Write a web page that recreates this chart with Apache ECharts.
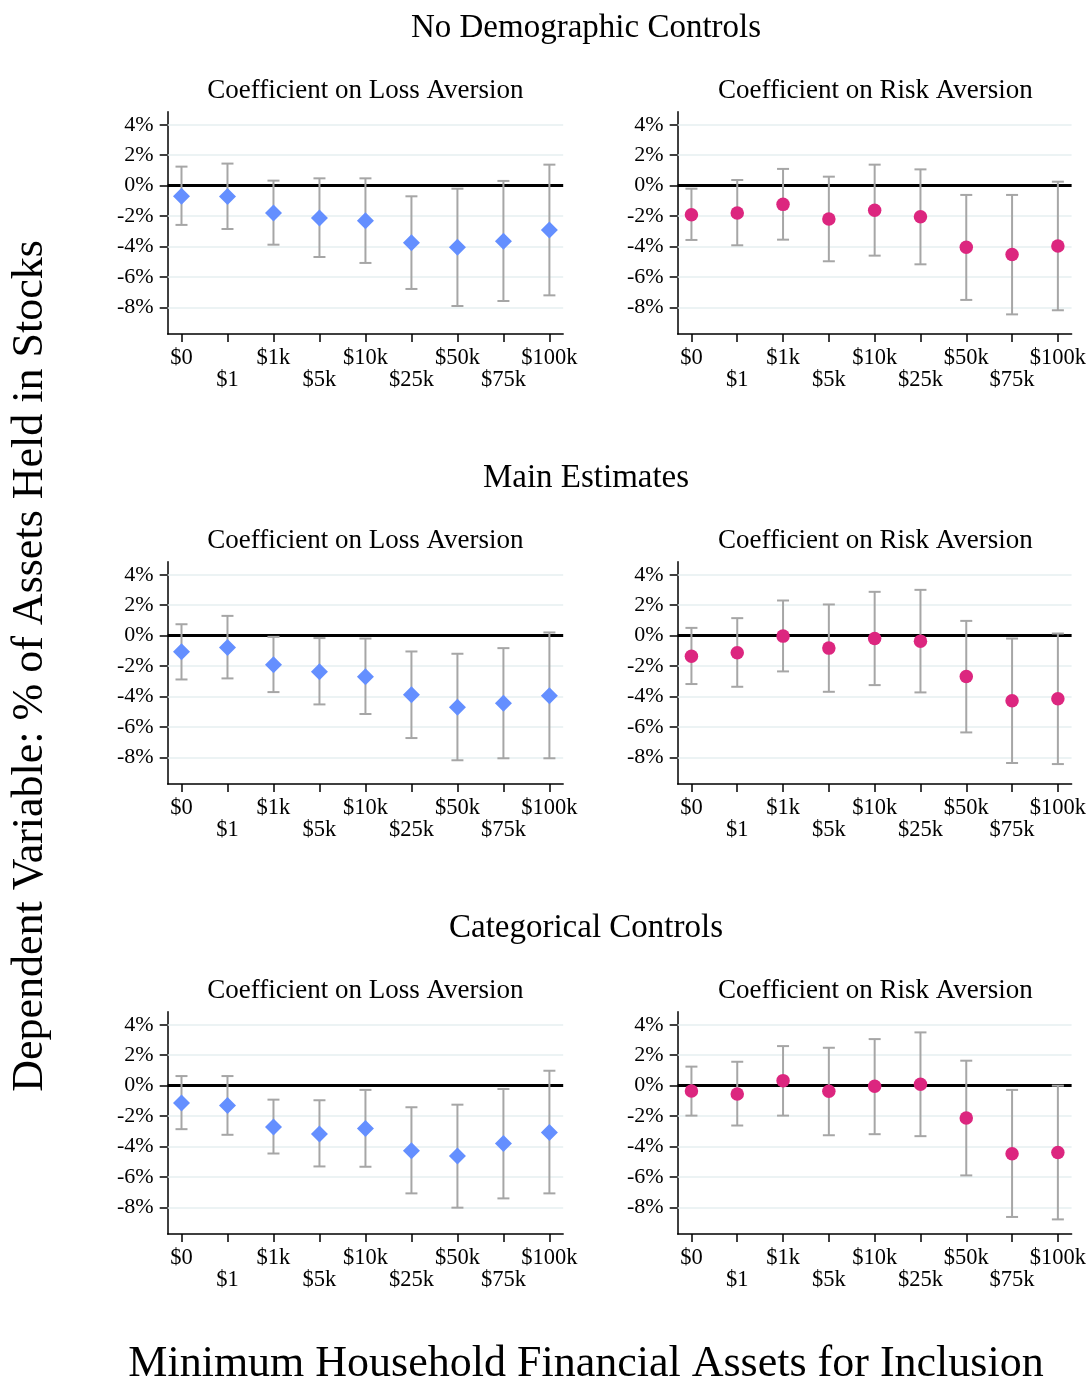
<!DOCTYPE html>
<html>
<head>
<meta charset="utf-8">
<script src="https://cdn.jsdelivr.net/npm/echarts@6/dist/echarts.min.js"></script>
<style>
html,body{margin:0;padding:0;background:#fff;}
#chart{width:1089px;height:1382px;}
</style>
</head>
<body>
<div id="chart"></div>
<script>
// ---- Data ----
const categories = ['$0', '$1', '$1k', '$5k', '$10k', '$25k', '$50k', '$75k', '$100k'];
const yTicks = [-8, -6, -4, -2, 0, 2, 4];

// No Demographic Controls
const lossNoDemoEst = [-0.70, -0.72, -1.80, -2.12, -2.30, -3.75, -4.05, -3.66, -2.91];
const lossNoDemoLo  = [-2.58, -2.85, -3.88, -4.69, -5.08, -6.79, -7.91, -7.58, -7.21];
const lossNoDemoHi  = [ 1.25,  1.45,  0.33,  0.48,  0.48, -0.70, -0.20,  0.31,  1.38];
const riskNoDemoEst = [-1.91, -1.80, -1.23, -2.19, -1.62, -2.04, -4.05, -4.53, -3.96];
const riskNoDemoLo  = [-3.57, -3.92, -3.55, -4.97, -4.60, -5.17, -7.51, -8.46, -8.19];
const riskNoDemoHi  = [-0.20,  0.37,  1.10,  0.59,  1.38,  1.07, -0.61, -0.61,  0.26];

// Main Estimates
const lossMainEst = [-1.06, -0.78, -1.91, -2.37, -2.70, -3.88, -4.71, -4.45, -3.95];
const lossMainLo  = [-2.88, -2.81, -3.71, -4.52, -5.15, -6.73, -8.19, -8.06, -8.06];
const lossMainHi  = [ 0.75,  1.30, -0.08, -0.16, -0.19, -1.04, -1.19, -0.82,  0.21];
const riskMainEst = [-1.35, -1.13, -0.03, -0.82, -0.19, -0.36, -2.68, -4.28, -4.15];
const riskMainLo  = [-3.18, -3.36, -2.35, -3.69, -3.25, -3.73, -6.36, -8.37, -8.44];
const riskMainHi  = [ 0.51,  1.15,  2.31,  2.05,  2.88,  3.01,  0.97, -0.19,  0.14];

// Categorical Controls
const lossCatEst = [-1.14, -1.31, -2.71, -3.17, -2.82, -4.28, -4.63, -3.80, -3.08];
const lossCatLo  = [-2.86, -3.23, -4.46, -5.31, -5.33, -7.08, -8.02, -7.41, -7.08];
const lossCatHi  = [ 0.63,  0.63, -0.92, -0.96, -0.28, -1.42, -1.25, -0.22,  0.98];
const riskCatEst = [-0.35, -0.55,  0.33, -0.37, -0.04,  0.09, -2.12, -4.48, -4.39];
const riskCatLo  = [-1.97, -2.62, -1.97, -3.26, -3.19, -3.32, -5.90, -8.63, -8.79];
const riskCatHi  = [ 1.25,  1.57,  2.60,  2.49,  3.06,  3.50,  1.64, -0.28,  0.00];

const sectionTitles = ['No Demographic Controls', 'Main Estimates', 'Categorical Controls'];
const panelTitles = ['Coefficient on Loss Aversion', 'Coefficient on Risk Aversion'];

const panels = [
  {est: lossNoDemoEst, lo: lossNoDemoLo, hi: lossNoDemoHi, kind: 'loss'},
  {est: riskNoDemoEst, lo: riskNoDemoLo, hi: riskNoDemoHi, kind: 'risk'},
  {est: lossMainEst, lo: lossMainLo, hi: lossMainHi, kind: 'loss'},
  {est: riskMainEst, lo: riskMainLo, hi: riskMainHi, kind: 'risk'},
  {est: lossCatEst, lo: lossCatLo, hi: lossCatHi, kind: 'loss'},
  {est: riskCatEst, lo: riskCatLo, hi: riskCatHi, kind: 'risk'}
];

// ---- Layout ----
const FONT = '"Liberation Serif", "DejaVu Serif", serif';
const colLeft = [167.7, 677.7];
const gridW = 395.5;
const rowTop = [111.7, 561.7, 1011.7];
const gridH = 222.3;
const BLUE = '#648FFF';
const PINK = '#DC267F';
const ERR = '#a6a6a6';

const grids = [], xAxes = [], yAxes = [], series = [], texts = [];
const tickIdx = categories.map((c, i) => i);
const evenIdx = tickIdx.filter(i => i % 2 === 0);
const oddIdx = tickIdx.filter(i => i % 2 === 1);

function txt(s, x, y, size, rot) {
  const t = {type: 'text', x: x, y: y, silent: true,
    style: {text: s, fontFamily: FONT, fontSize: size, fill: '#000', align: 'center', verticalAlign: 'middle'}};
  if (rot) t.rotation = rot;
  return t;
}

panels.forEach((p, k) => {
  const r = Math.floor(k / 2), c = k % 2;
  grids.push({left: colLeft[c], top: rowTop[r], width: gridW, height: gridH, containLabel: false});
  // main x axis: line, all ticks, upper-row labels
  xAxes.push({
    type: 'value', gridIndex: k, min: -0.3, max: 8.3, position: 'bottom', offset: 0,
    axisLine: {show: true, onZero: false, lineStyle: {color: '#000', width: 1.5}},
    axisTick: {show: true, length: 8, customValues: tickIdx, lineStyle: {color: '#000', width: 1.5}},
    axisLabel: {
      customValues: evenIdx, hideOverlap: false, showMinLabel: true, showMaxLabel: true,
      margin: 13, fontFamily: FONT, fontSize: 22.5, color: '#000',
      formatter: v => categories[Math.round(v)]
    },
    splitLine: {show: false}
  });
  // companion x axis: lower-row labels only
  xAxes.push({
    type: 'value', gridIndex: k, min: -0.3, max: 8.3, position: 'bottom', offset: 0,
    axisLine: {show: false, onZero: false},
    axisTick: {show: false},
    axisLabel: {
      customValues: oddIdx, hideOverlap: false, showMinLabel: true, showMaxLabel: true,
      margin: 35, fontFamily: FONT, fontSize: 22.5, color: '#000',
      formatter: v => categories[Math.round(v)]
    },
    splitLine: {show: false}
  });
  yAxes.push({
    type: 'value', gridIndex: k, min: -9.75, max: 4.86,
    axisLine: {show: true, onZero: false, lineStyle: {color: '#000', width: 1.5}},
    axisTick: {show: true, length: 8, customValues: yTicks, lineStyle: {color: '#000', width: 1.5}},
    axisLabel: {customValues: yTicks, hideOverlap: false, showMinLabel: true, showMaxLabel: true,
      margin: 14, fontFamily: FONT, fontSize: 22, color: '#000',
      formatter: v => v + '%'},
    splitLine: {show: false}
  });
  const gridLines = yTicks.filter(v => v !== 0).map(v => ({yAxis: v, lineStyle: {color: '#e6eff1', width: 1.5, type: 'solid'}}));
  gridLines.push({yAxis: 0, lineStyle: {color: '#000', width: 3, type: 'solid'}});
  series.push({
    type: 'custom', xAxisIndex: 2 * k, yAxisIndex: k, z: 2, silent: true,
    data: categories.map((cat, i) => [i, p.lo[i], p.hi[i]]),
    renderItem: (params, api) => {
      const x = api.value(0);
      const a = api.coord([x, api.value(1)]);
      const b = api.coord([x, api.value(2)]);
      const w = 6;
      const style = {stroke: ERR, lineWidth: 2, fill: null};
      return {type: 'group', children: [
        {type: 'line', shape: {x1: a[0], y1: a[1], x2: b[0], y2: b[1]}, style},
        {type: 'line', shape: {x1: a[0] - w, y1: a[1], x2: a[0] + w, y2: a[1]}, style},
        {type: 'line', shape: {x1: b[0] - w, y1: b[1], x2: b[0] + w, y2: b[1]}, style}
      ]};
    },
    markLine: {silent: true, symbol: 'none', z: 1, label: {show: false}, animation: false, data: gridLines}
  });
  series.push({
    type: 'scatter', xAxisIndex: 2 * k, yAxisIndex: k, z: 3, silent: true,
    symbol: p.kind === 'loss' ? 'diamond' : 'circle',
    symbolSize: p.kind === 'loss' ? [17, 17] : 13.5,
    itemStyle: {color: p.kind === 'loss' ? BLUE : PINK, opacity: 1},
    data: categories.map((cat, i) => [i, p.est[i]])
  });
  texts.push(txt(panelTitles[c], colLeft[c] + gridW / 2, rowTop[r] - 21, 27));
});

sectionTitles.forEach((t, r) => {
  texts.push(txt(t, 586, 28 + r * 450, 33));
});
texts.push(txt('Dependent Variable: % of Assets Held in Stocks', 30, 666, 44, Math.PI / 2));
texts.push(txt('Minimum Household Financial Assets for Inclusion', 586, 1364, 44));

const chart = echarts.init(document.getElementById('chart'), null, {renderer: 'canvas'});
chart.setOption({
  backgroundColor: '#fff',
  animation: false,
  grid: grids,
  xAxis: xAxes,
  yAxis: yAxes,
  series: series,
  graphic: texts
});
</script>
</body>
</html>
